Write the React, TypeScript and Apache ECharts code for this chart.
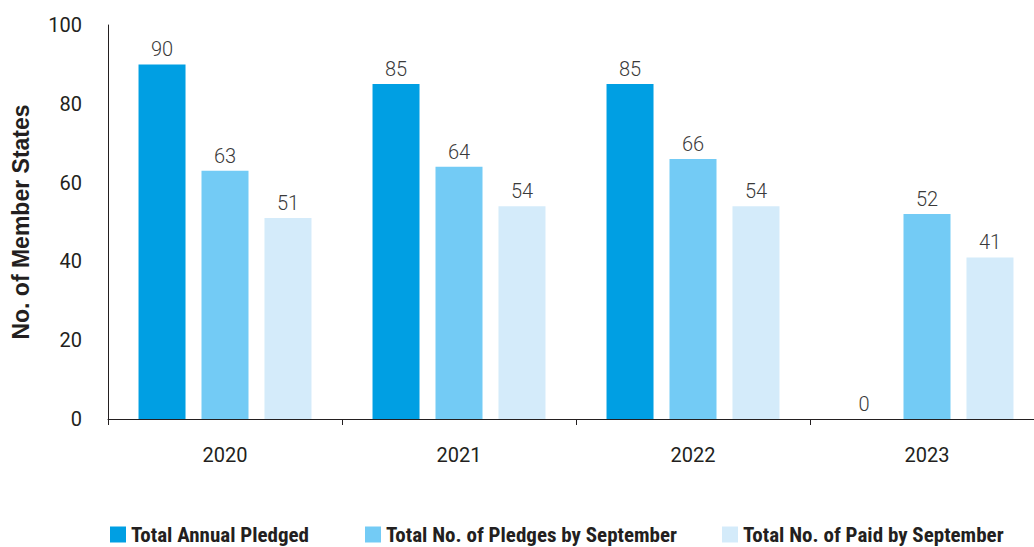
import React, { useEffect, useRef } from "react";
import * as echarts from "echarts";

const categories = ["2020", "2021", "2022", "2023"];
const annualPledged = [90, 85, 85, 0];
const pledgesBySeptember = [63, 64, 66, 52];
const paidBySeptember = [51, 54, 54, 41];
const seriesNames = [
  "Total Annual Pledged",
  "Total No. of Pledges by September",
  "Total No. of Paid by September",
];
const colors = ["#009FE3", "#73CBF5", "#D4EBFA"];

export default function App() {
  const ref = useRef<HTMLDivElement>(null);
  useEffect(() => {
    const chart = echarts.init(ref.current!, null, { renderer: "svg" });
    const font = "Roboto, sans-serif";
    const legendText = {
      fontFamily: "'Roboto Condensed', 'Liberation Sans Narrow', Roboto, sans-serif",
      fontWeight: "bold" as const,
      fontSize: 21,
      lineHeight: 21,
      color: "#231F20",
    };
    const legendLefts = [110, 365, 722];
    const mk = (name: string, data: number[], color: string) => ({
      name,
      type: "bar",
      data,
      barWidth: 47,
      barGap: "34%",
      itemStyle: { color },
      label: {
        show: true,
        position: "top",
        distance: 5,
        fontFamily: font,
        fontWeight: 300,
        fontSize: 20,
        color: "#3A3A3A",
      },
    });
    chart.setOption({
      animation: false,
      grid: {
        left: 108,
        top: 25,
        width: 936,
        height: 394,
        containLabel: false,
        outerBoundsMode: "none",
      },
      legend: seriesNames.map((n, i) => ({
        data: [n],
        left: legendLefts[i],
        top: 524,
        itemWidth: 16,
        itemHeight: 16,
        itemGap: 5,
        icon: "rect",
        textStyle: legendText,
        padding: 0,
        selectedMode: false,
      })),
      xAxis: {
        type: "category",
        data: categories,
        axisLine: { lineStyle: { color: "#231F20", width: 1 } },
        axisTick: { show: true, length: 6, lineStyle: { color: "#231F20" } },
        axisLabel: { fontFamily: font, fontSize: 20, color: "#231F20", margin: 26 },
      },
      yAxis: {
        type: "value",
        min: 0,
        max: 100,
        interval: 20,
        name: "No. of Member States",
        nameLocation: "middle",
        nameGap: 76,
        nameRotate: 90,
        nameTextStyle: {
          fontFamily: "'Liberation Sans', Arial, sans-serif",
          fontSize: 23,
          fontWeight: "bold",
          color: "#231F20",
        },
        axisLine: { show: true, lineStyle: { color: "#231F20", width: 1 } },
        axisTick: { show: false },
        splitLine: { show: false },
        axisLabel: { fontFamily: font, fontSize: 20, color: "#231F20", margin: 26 },
      },
      series: [
        mk(seriesNames[0], annualPledged, colors[0]),
        mk(seriesNames[1], pledgesBySeptember, colors[1]),
        mk(seriesNames[2], paidBySeptember, colors[2]),
      ],
    });
    return () => chart.dispose();
  }, []);
  return (
    <div
      ref={ref}
      style={{ position: "fixed", left: 0, top: 0, width: 1034, height: 547, background: "#fff" }}
    />
  );
}
